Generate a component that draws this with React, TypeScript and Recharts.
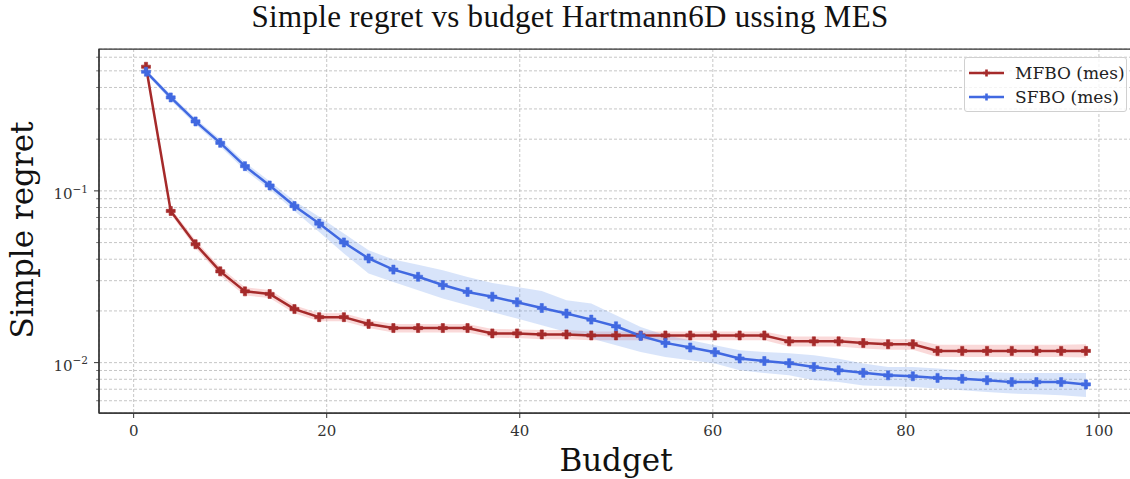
import React from 'react';
import {
  ComposedChart,
  Line,
  Area,
  XAxis,
  YAxis,
  CartesianGrid,
  Legend,
  ReferenceArea,
} from 'recharts';

// Budget spent at each evaluation step
const budget = [
  1.28, 3.84, 6.41, 8.97, 11.53, 14.09, 16.66, 19.22, 21.78, 24.34, 26.91, 29.47, 32.03,
  34.59, 37.16, 39.72, 42.28, 44.84, 47.41, 49.97, 52.53, 55.09, 57.66, 60.22, 62.78, 65.34,
  67.91, 70.47, 73.03, 75.59, 78.16, 80.72, 83.28, 85.84, 88.41, 90.97, 93.53, 96.09, 98.66,
];

// Multi-fidelity BO (MES): mean simple regret and its confidence band
const mfboMean = [
  0.528, 0.0764, 0.0489, 0.034, 0.026, 0.0251, 0.0205, 0.0184, 0.0184, 0.0168, 0.0159, 0.0159,
  0.0159, 0.0159, 0.0148, 0.0148, 0.0146, 0.0146, 0.0144, 0.0144, 0.0144, 0.0144, 0.0144, 0.0144,
  0.0144, 0.0144, 0.0133, 0.0133, 0.0133, 0.013, 0.0128, 0.0128, 0.0117, 0.0117, 0.0117, 0.0117,
  0.0117, 0.0117, 0.0117,
];
const mfboLow = [
  0.514, 0.0734, 0.0464, 0.0322, 0.0246, 0.0238, 0.0194, 0.0174, 0.0174, 0.0159, 0.015, 0.015,
  0.015, 0.015, 0.014, 0.0139, 0.0137, 0.0137, 0.0135, 0.0135, 0.0135, 0.0135, 0.0135, 0.0135,
  0.0135, 0.0135, 0.0124, 0.0124, 0.0124, 0.0121, 0.0119, 0.0119, 0.0108, 0.0108, 0.0108, 0.0108,
  0.0108, 0.0108, 0.0107,
];
const mfboHigh = [
  0.542, 0.0795, 0.0516, 0.0359, 0.0275, 0.0265, 0.0216, 0.0194, 0.0194, 0.0177, 0.0168, 0.0168,
  0.0168, 0.0168, 0.0157, 0.0156, 0.0155, 0.0155, 0.0152, 0.0152, 0.0152, 0.0152, 0.0152, 0.0152,
  0.0152, 0.0152, 0.0142, 0.0142, 0.0142, 0.0139, 0.0137, 0.0137, 0.0127, 0.0127, 0.0127, 0.0127,
  0.0127, 0.0127, 0.0128,
];

// Single-fidelity BO (MES): mean simple regret and its confidence band
const sfboMean = [
  0.494, 0.35, 0.2537, 0.1904, 0.1393, 0.1075, 0.0816, 0.0645, 0.0501, 0.0404, 0.0348, 0.0316,
  0.0283, 0.0258, 0.0242, 0.02246, 0.0208, 0.0193, 0.0178, 0.01628, 0.01429, 0.01303, 0.01225,
  0.0115, 0.01057, 0.01022, 0.00993, 0.00943, 0.00902, 0.00872, 0.00843, 0.00833, 0.00815,
  0.00805, 0.0079, 0.0077, 0.0077, 0.0077, 0.00747,
];
const sfboLow = [
  0.481, 0.336, 0.2436, 0.1816, 0.132, 0.1023, 0.0764, 0.0577, 0.0432, 0.033, 0.0295, 0.0264,
  0.0236, 0.0216, 0.0197, 0.01805, 0.0165, 0.0151, 0.0138, 0.01261, 0.01153, 0.01078, 0.01031,
  0.00987, 0.00902, 0.0087, 0.00843, 0.00789, 0.0077, 0.00737, 0.00728, 0.00721, 0.00706,
  0.0069, 0.00674, 0.0066, 0.00654, 0.00645, 0.0063,
];
const sfboHigh = [
  0.507, 0.3646, 0.2642, 0.1995, 0.1469, 0.1139, 0.0874, 0.0706, 0.0564, 0.0451, 0.0398, 0.0372,
  0.0345, 0.0315, 0.0291, 0.0276, 0.0261, 0.0231, 0.0221, 0.01886, 0.01613, 0.01442, 0.01349,
  0.01261, 0.01179, 0.01153, 0.01133, 0.01103, 0.01055, 0.00987, 0.00943, 0.00943, 0.00923,
  0.00902, 0.00882, 0.0087, 0.0087, 0.0087, 0.0087,
];

// Axis ticks
const xTicks = [0, 20, 40, 60, 80, 100];
const yTicks = [
  0.006, 0.007, 0.008, 0.009, 0.01, 0.02, 0.03, 0.04, 0.05, 0.06, 0.07, 0.08, 0.09, 0.1, 0.2,
  0.3, 0.4, 0.5, 0.6,
];
const yMajorTicks = [0.01, 0.1];
const yMajorExponents = ['\u22122', '\u22121'];

const seriesNames = ['MFBO (mes)', 'SFBO (mes)'];

const RED = '#a52a2a';
const BLUE = '#4169e1';
const SERIF = '"DejaVu Serif", serif';
const PLOT_LEFT = 99;
const X_DOMAIN: [number, number] = [-3.59, 103.53];
const Y_DOMAIN: [number, number] = [0.00509, 0.67];

const rows = budget.map((b, i) => ({
  budget: b,
  mfbo: mfboMean[i],
  mfboBand: [mfboLow[i], mfboHigh[i]],
  sfbo: sfboMean[i],
  sfboBand: [sfboLow[i], sfboHigh[i]],
}));

function plusPath(cx: number, cy: number, s: number, t: number) {
  return `M${cx - t},${cy - s}H${cx + t}V${cy - t}H${cx + s}V${cy + t}H${cx + t}V${cy + s}H${cx - t}V${cy + t}H${cx - s}V${cy - t}H${cx - t}Z`;
}

const plusDot = (color: string) => (props: any) => {
  const { cx, cy, index } = props;
  if (cx == null || cy == null) return <g key={`d-${index}`} />;
  return (
    <path
      key={`d-${index}`}
      d={plusPath(cx, cy, 4.5, 1.6)}
      fill={color}
      stroke={color}
      strokeWidth={0.6}
    />
  );
};

const XTick = (props: any) => {
  const { x, payload } = props;
  return (
    <text x={x} y={436} textAnchor="middle" fontFamily={SERIF} fontSize={15} fill="#333">
      {payload.value}
    </text>
  );
};

const YTick = (props: any) => {
  const { y, payload } = props;
  const k = yMajorTicks.findIndex((m) => Math.abs(m - payload.value) < 1e-12);
  const major = k >= 0;
  return (
    <g>
      <line
        x1={PLOT_LEFT - (major ? 5 : 2.8)}
        x2={PLOT_LEFT}
        y1={y}
        y2={y}
        stroke="#333"
        strokeWidth={major ? 1 : 0.7}
      />
      {major && (
        <text x={88} y={y + 8.6} textAnchor="end" fontFamily={SERIF} fontSize={15} fill="#333">
          10
          <tspan dy={-6.8} fontSize={10.5}>
            {yMajorExponents[k]}
          </tspan>
        </text>
      )}
    </g>
  );
};

const BudgetLabel = (props: any) => {
  const { viewBox } = props;
  return (
    <text
      x={viewBox.x + viewBox.width / 2}
      y={471}
      textAnchor="middle"
      fontFamily={SERIF}
      fontSize={31}
      fill="#111"
    >
      Budget
    </text>
  );
};

const RegretLabel = () => (
  <text
    x={33.3}
    y={230}
    transform="rotate(-90, 33.3, 230)"
    textAnchor="middle"
    fontFamily={SERIF}
    fontSize={31}
    fill="#111"
  >
    Simple regret
  </text>
);

// Legend drawn as a bordered HTML box: line + plus marker, then series name
const LegendBox = () => {
  const colors = [RED, BLUE];
  return (
    <div
      style={{
        boxSizing: 'border-box',
        width: 163,
        height: 55,
        border: '1px solid #d0d0d0',
        borderRadius: 3,
        background: 'rgba(255,255,255,0.8)',
        position: 'relative',
      }}
    >
      {seriesNames.map((name, k) => (
        <div
          key={name}
          style={{
            position: 'absolute',
            left: 4,
            top: 3 + k * 23.5,
            height: 24,
            display: 'flex',
            alignItems: 'center',
            whiteSpace: 'nowrap',
          }}
        >
          <svg width={36} height={10} style={{ display: 'block', flex: 'none' }}>
            <line x1={0} x2={35} y1={5} y2={5} stroke={colors[k]} strokeWidth={2.5} />
            <path d={plusPath(17.5, 5, 3.5, 1.3)} fill={colors[k]} />
          </svg>
          <span
            style={{
              marginLeft: 10,
              fontFamily: SERIF,
              fontSize: 17,
              lineHeight: '24px',
              color: '#222',
            }}
          >
            {name}
          </span>
        </div>
      ))}
    </div>
  );
};

export default function App() {
  return (
    <div
      style={{
        position: 'absolute',
        left: 0,
        top: 0,
        width: 1130,
        height: 479,
        overflow: 'hidden',
        background: '#fff',
      }}
    >
      <ComposedChart
        width={1140}
        height={479}
        data={rows}
        margin={{ top: 49, right: 7, bottom: 0, left: 0 }}
      >
        <CartesianGrid stroke="#b8b8b8" strokeDasharray="3 2" strokeWidth={0.8} />
        <XAxis
          dataKey="budget"
          type="number"
          domain={X_DOMAIN}
          allowDataOverflow
          ticks={xTicks}
          interval={0}
          height={66}
          tickSize={5}
          axisLine={{ stroke: '#333', strokeWidth: 1.25 }}
          tickLine={{ stroke: '#333' }}
          tick={<XTick />}
          label={<BudgetLabel />}
        />
        <YAxis
          type="number"
          scale="log"
          domain={Y_DOMAIN}
          allowDataOverflow
          ticks={yTicks}
          interval={0}
          width={PLOT_LEFT}
          tickLine={false}
          axisLine={{ stroke: '#333', strokeWidth: 1.25 }}
          tick={<YTick />}
          label={<RegretLabel />}
        />
        <ReferenceArea
          x1={X_DOMAIN[0]}
          x2={X_DOMAIN[1]}
          y1={Y_DOMAIN[0]}
          y2={Y_DOMAIN[1]}
          fill="none"
          stroke="#333"
          strokeWidth={1.25}
          ifOverflow="visible"
        />
        <Area
          dataKey="mfboBand"
          stroke="none"
          fill="#f08080"
          fillOpacity={0.3}
          isAnimationActive={false}
          activeDot={false}
        />
        <Line
          dataKey="mfbo"
          stroke={RED}
          strokeWidth={2.5}
          dot={plusDot(RED)}
          activeDot={false}
          isAnimationActive={false}
        />
        <Area
          dataKey="sfboBand"
          stroke="none"
          fill="#6495ed"
          fillOpacity={0.25}
          isAnimationActive={false}
          activeDot={false}
        />
        <Line
          dataKey="sfbo"
          stroke={BLUE}
          strokeWidth={2.5}
          dot={plusDot(BLUE)}
          activeDot={false}
          isAnimationActive={false}
        />
        <Legend
          layout="vertical"
          align="center"
          verticalAlign="middle"
          content={<LegendBox />}
          wrapperStyle={{ left: 964, top: 57, width: 163, height: 55 }}
        />
      </ComposedChart>
      <svg
        width={1130}
        height={44}
        style={{ position: 'absolute', left: 0, top: 0, pointerEvents: 'none' }}
      >
        <text
          x={570}
          y={27}
          textAnchor="middle"
          fontFamily='"Liberation Serif", serif'
          fontSize={31}
          letterSpacing={0.3}
          fill="#111"
        >
          Simple regret vs budget Hartmann6D ussing MES
        </text>
      </svg>
    </div>
  );
}
